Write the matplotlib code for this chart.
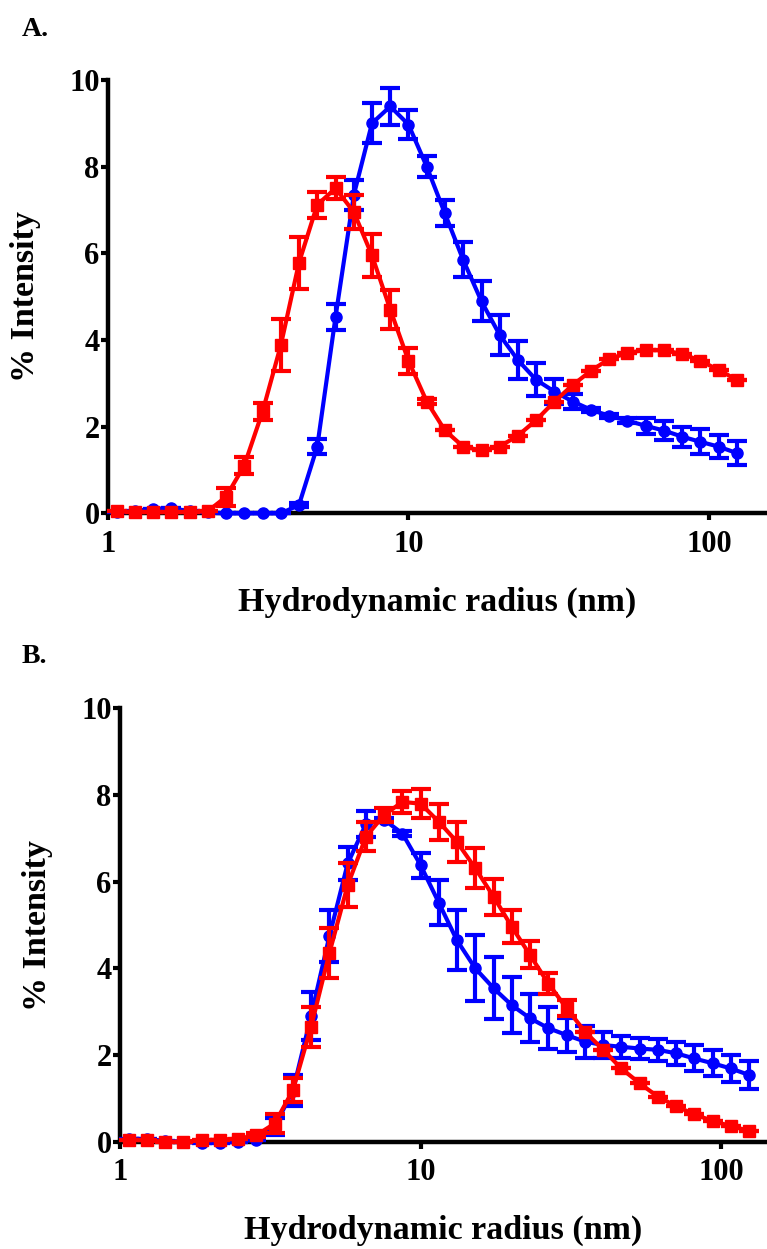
import matplotlib
matplotlib.use("Agg")
import matplotlib.pyplot as plt
from matplotlib.ticker import FixedLocator, NullLocator

plt.rcParams['font.family'] = ['Liberation Serif', 'DejaVu Serif']
plt.rcParams['font.weight'] = 'bold'

# Hydrodynamic radius bins (nm)
radius = [1.07, 1.23, 1.41, 1.62, 1.87, 2.15, 2.47, 2.84, 3.27, 3.76, 4.32, 4.97,
          5.72, 6.58, 7.56, 8.70, 10.0, 11.5, 13.2, 15.2, 17.5, 20.1, 23.1, 26.6,
          30.6, 35.2, 40.5, 46.5, 53.5, 61.5, 70.8, 81.4, 93.6, 107.6, 123.8]

# Panel A
a_blue = [0.03, 0.06, 0.10, 0.12, 0.05, 0.02, 0.0, 0.0, 0.0, 0.0, 0.19, 1.54,
          4.54, 7.35, 9.0, 9.39, 8.97, 8.0, 6.93, 5.85, 4.89, 4.12, 3.54, 3.08,
          2.81, 2.58, 2.39, 2.25, 2.14, 2.02, 1.91, 1.77, 1.65, 1.54, 1.39]
a_blue_err = [0, 0, 0, 0, 0, 0, 0, 0, 0, 0, 0.05, 0.17,
              0.3, 0.35, 0.46, 0.42, 0.33, 0.25, 0.3, 0.4, 0.46, 0.46, 0.43, 0.38,
              0.28, 0.17, 0.05, 0.05, 0.05, 0.18, 0.21, 0.23, 0.29, 0.27, 0.27]
a_red = [0.05, 0.03, 0.03, 0.03, 0.03, 0.05, 0.38, 1.1, 2.35, 3.88, 5.78, 7.12,
         7.5, 6.95, 5.95, 4.7, 3.52, 2.58, 1.92, 1.54, 1.45, 1.54, 1.79, 2.15,
         2.58, 2.96, 3.29, 3.56, 3.70, 3.77, 3.76, 3.68, 3.52, 3.31, 3.08]
a_red_err = [0, 0, 0, 0, 0, 0, 0.2, 0.2, 0.2, 0.6, 0.6, 0.3,
             0.25, 0.4, 0.5, 0.45, 0.3, 0.05, 0, 0, 0, 0, 0, 0,
             0, 0, 0, 0, 0, 0, 0, 0, 0, 0, 0]

# Panel B
b_blue = [0.07, 0.06, 0.02, 0.0, -0.03, -0.02, 0.0, 0.05, 0.35, 1.18, 2.9, 4.74,
          6.42, 7.33, 7.43, 7.11, 6.38, 5.51, 4.65, 4.0, 3.54, 3.15, 2.85, 2.62,
          2.46, 2.31, 2.23, 2.19, 2.15, 2.12, 2.04, 1.92, 1.81, 1.69, 1.54]
b_blue_err = [0, 0, 0, 0, 0, 0, 0, 0, 0.2, 0.35, 0.55, 0.6,
              0.38, 0.29, 0.05, 0.05, 0.29, 0.52, 0.69, 0.76, 0.72, 0.64, 0.56, 0.48,
              0.4, 0.37, 0.3, 0.25, 0.25, 0.25, 0.26, 0.3, 0.3, 0.32, 0.32]
b_red = [0.05, 0.03, 0.0, 0.0, 0.03, 0.05, 0.07, 0.15, 0.42, 1.19, 2.65, 4.35,
         5.92, 7.04, 7.54, 7.84, 7.8, 7.38, 6.92, 6.31, 5.65, 4.96, 4.31, 3.65,
         3.08, 2.54, 2.12, 1.69, 1.35, 1.04, 0.82, 0.63, 0.48, 0.36, 0.25]
b_red_err = [0, 0, 0, 0, 0, 0, 0, 0.05, 0.23, 0.27, 0.46, 0.58,
             0.5, 0.33, 0.17, 0.25, 0.33, 0.42, 0.46, 0.46, 0.42, 0.38, 0.31, 0.24,
             0.18, 0, 0, 0, 0, 0, 0, 0, 0, 0, 0]

BLUE = "#0000ff"
RED = "#ff0000"

fig = plt.figure(figsize=(7.67, 12.49), dpi=100)


def draw_panel(ax, blue, blue_err, red, red_err, xmax):
    ax.errorbar(radius, blue, yerr=blue_err, color=BLUE, marker='o', markersize=8,
                linewidth=3, elinewidth=3, capsize=7, capthick=3, clip_on=False, zorder=3)
    ax.errorbar(radius, red, yerr=red_err, color=RED, marker='s', markersize=9,
                linewidth=3, elinewidth=3, capsize=7, capthick=3, clip_on=False, zorder=4)
    ax.set_xscale('log')
    ax.set_xlim(1, xmax)
    ax.set_ylim(0, 10)
    ax.xaxis.set_major_locator(FixedLocator([1, 10, 100]))
    ax.xaxis.set_minor_locator(NullLocator())
    ax.set_xticklabels(['1', '10', '100'])
    ax.set_yticks([0, 2, 4, 6, 8, 10])
    for side in ['top', 'right']:
        ax.spines[side].set_visible(False)
    for side in ['left', 'bottom']:
        ax.spines[side].set_linewidth(3.2)
    ax.tick_params(axis='both', direction='out', length=5, width=3, labelsize=22, pad=1)
    ax.tick_params(axis='x', pad=7)
    ax.set_xlabel("Hydrodynamic radius (nm)", fontsize=24.5, fontweight='bold', labelpad=20)
    ax.set_ylabel("% Intensity", fontsize=24.5, fontweight='bold', labelpad=20)


ax_a = fig.add_axes([0.1408, 0.589, 0.8592, 0.347])
draw_panel(ax_a, a_blue, a_blue_err, a_red, a_red_err, 156)
fig.text(0.028, 0.976, 'A.', fontsize=20, fontweight='bold', ha='left', va='center')

ax_b = fig.add_axes([0.1565, 0.0859, 0.8435, 0.347])
draw_panel(ax_b, b_blue, b_blue_err, b_red, b_red_err, 142)
fig.text(0.028, 0.474, 'B.', fontsize=20, fontweight='bold', ha='left', va='center')

fig.savefig("out.png", dpi=100)
